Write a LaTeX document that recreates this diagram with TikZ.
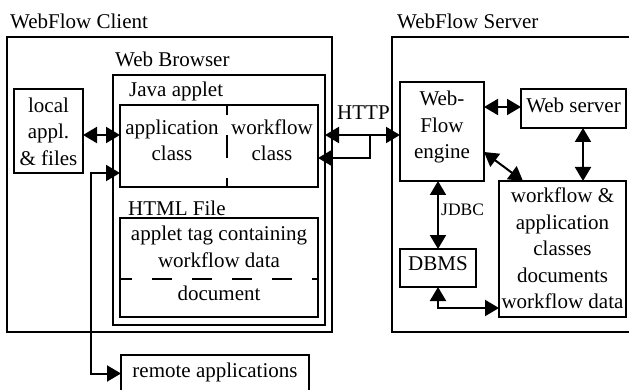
\documentclass[tikz,border=0pt]{standalone}
\usepackage{fontspec}
\setmainfont{Liberation Serif}
\usetikzlibrary{arrows.meta}

% a framed rectangle given by its corners: name, x1, y1, x2, y2
\newcommand{\mybox}[5]{%
  \node[box, minimum width={#4-#2}, minimum height={#5-#3}] (#1)
    at ({(#2+#4)/2},{(#3+#5)/2}) {};}

\begin{document}
\begin{tikzpicture}[x=1pt, y=-1pt,
  box/.style={draw, rectangle, line width=2pt, inner sep=0pt, outer sep=0pt},
  txt/.style={font=\fontsize{21}{26.5}\selectfont, align=center, inner sep=0pt},
  lbl/.style={font=\fontsize{21}{26.5}\selectfont, anchor=base west, inner sep=0pt},
  link/.style={line width=2pt,
    {Triangle[length=14pt 0 0, width=16pt 0 0]}-{Triangle[length=14pt 0 0, width=16pt 0 0]}},
  onelink/.style={line width=2pt, -{Triangle[length=14pt 0 0, width=16pt 0 0]}},
  divider/.style={line width=2pt}]

  \clip (0,0) rectangle (629,390);

  % ---------------- client side ----------------
  \mybox{client}{7}{37}{332}{332}
  \mybox{browser}{113}{75}{325}{325}
  \mybox{applet}{120}{105}{318}{187}
  \mybox{html}{120}{218}{318}{317}
  \mybox{local}{14}{89}{83}{173}
  \mybox{remote}{121}{355}{309}{392}

  \node[lbl] (client-l)  at (10,29)  {WebFlow Client};
  \node[lbl] (browser-l) at (115,67) {Web Browser};
  \node[lbl] (applet-l)  at (129,97) {Java applet};
  \node[lbl] (html-l)    at (128,215) {HTML File};

  \coordinate (divx) at (227,0);
  \draw[divider, dash pattern=on 23pt off 20pt, dash phase=13pt]
    (applet.north -| divx) -- (applet.south -| divx);
  \coordinate (divy) at (0,279);
  \draw[divider, dash pattern=on 20pt off 20pt, dash phase=8pt]
    (html.west |- divy) -- (html.east |- divy);

  \node[txt] (local-t) at (48.5,131.4) {local\\appl.\\\& files};
  \node[txt] (appcls-t) at (172,140.4) {application\\class};
  \node[txt] (wfcls-t)  at (272,140.4) {workflow\\class};
  \node[txt] (tag-t) at (219,247) {applet tag containing\\workflow data};
  \node[txt] (doc-t) at (219,293) {document};
  \node[txt] (remote-t) at (215,372) {remote applications};

  % ---------------- server side ----------------
  \mybox{server}{392}{37}{640}{332}
  \mybox{engine}{400}{82}{484}{181}
  \mybox{websrv}{521}{89}{626}{128}
  \mybox{store}{499}{181}{626}{317}
  \mybox{dbms}{400}{249}{476}{287}

  \node[lbl] (server-l) at (397,29) {WebFlow Server};
  \node[txt] (engine-t) at (442,127) {Web-\\Flow\\engine};
  \node[txt] (websrv-t) at (573.5,105.5) {Web server};
  \node[txt] (store-t)  at (562.5,248.5)
    {workflow \&\\application\\classes\\documents\\workflow data};
  \node[txt] (dbms-t) at (438,264) {DBMS};

  % ---------------- connectors ----------------
  \coordinate (yLoc) at (0,135);
  \draw[link] (local.east |- yLoc) -- (applet.west |- yLoc);

  \coordinate (rt) at (91,173);
  \coordinate (rb) at (91,373.5);
  \draw[link] (applet.west |- rt) -- (rt) -- (rb) -- (remote.west);

  \coordinate (hj) at (370,135);
  \coordinate (yHttp2) at (0,158);
  \draw[link] (browser.east |- hj) -- (engine.west |- hj);
  \draw[onelink] (hj) |- (applet.east |- yHttp2);
  \node[lbl] (http-l) at (337,120) {HTTP};

  \coordinate (yW) at (0,107);
  \draw[link] (engine.east |- yW) -- (websrv.west |- yW);

  \coordinate (xW) at (583,0);
  \draw[link] (websrv.south -| xW) -- (store.north -| xW);

  \coordinate (dA) at (0,152);
  \coordinate (dB) at (523,0);
  \draw[link] (engine.east |- dA) -- (store.north -| dB);

  \draw[link] (engine.south -| dbms.north) -- (dbms.north);
  \node[lbl, font=\fontsize{17.5}{20}\selectfont] (jdbc-l) at (441,216) {JDBC};

  \coordinate (yD) at (0,308);
  \draw[link] (dbms.south) |- (store.west |- yD);
\end{tikzpicture}
\end{document}
